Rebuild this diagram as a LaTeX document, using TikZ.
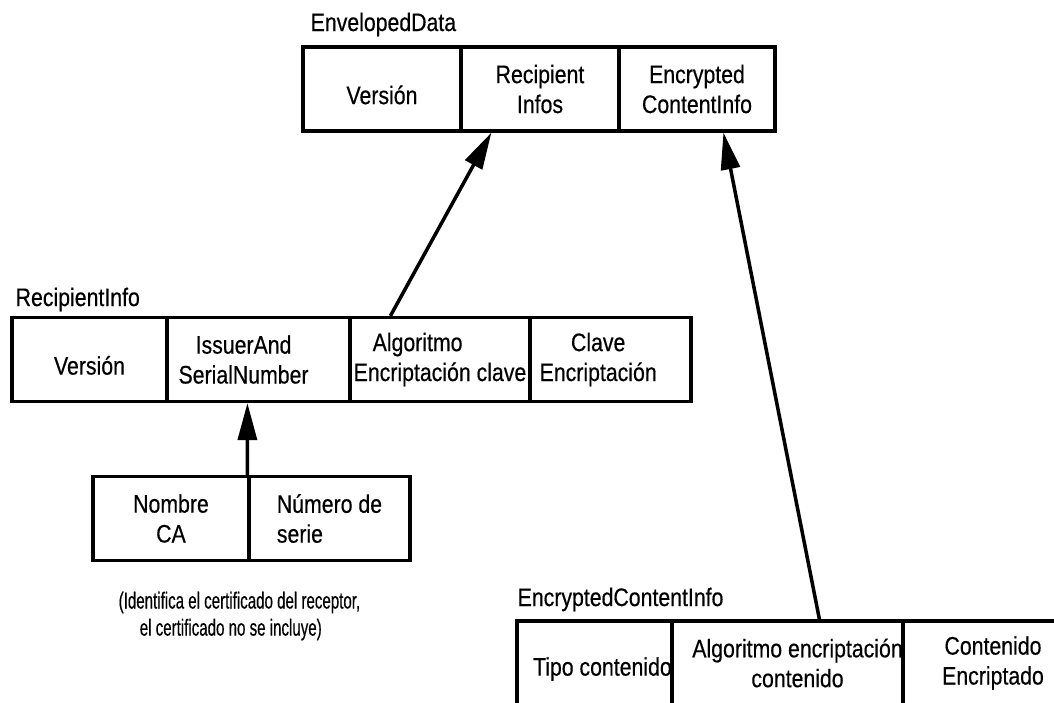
\documentclass[tikz,border=0pt]{standalone}
\usepackage{fontspec}
\setmainfont{Liberation Sans}[FakeStretch=0.84,FakeBold=0.4]
\newfontfamily\notefont{Liberation Sans}[FakeStretch=0.65,FakeBold=0.4]
\usetikzlibrary{arrows.meta,calc}
\begin{document}
\begin{tikzpicture}[x=0.01cm,y=-0.01cm,
  txt/.style={font=\fontsize{7.2pt}{8.5pt}\selectfont, inner sep=0pt},
  cell/.style={txt, draw, line width=0.9pt, align=center, minimum height=0.84cm,
    execute at begin node={\rule{0pt}{8.65pt}}},
  title/.style={txt, anchor=base west},
  link/.style={line width=1pt, -{Triangle[length=10.5pt,width=5.4pt]}}
]
\useasboundingbox (0,0) rectangle (1054,702);
\fill[white] (0,0) rectangle (1054,702);
\clip (0,0) rectangle (1054,702);

% EnvelopedData
\node[title] (edT) at (310,31) {EnvelopedData};
\node[cell, minimum width=1.58cm] (ed1) at (382,89) {Versión};
\node[cell, minimum width=1.58cm] (ed2) at (540,89) {Recipient\\Infos};
\node[cell, minimum width=1.56cm] (ed3) at (697,89) {Encrypted\\ContentInfo};

% RecipientInfo
\node[title] (riT) at (15,306) {RecipientInfo};
\node[cell, minimum width=1.55cm] (ri1) at (89.5,359.5) {Versión};
\node[cell, minimum width=1.83cm] (ri2) at (258.5,359.5) {IssuerAnd\hspace*{8.5pt}\\SerialNumber\hspace*{8.5pt}};
\node[cell, minimum width=1.80cm, align=left] (ri3) at (440,359.5) {\hspace*{5.4pt}Algoritmo\\Encriptación clave};
\node[cell, minimum width=1.61cm] (ri4) at (610.5,359.5) {Clave\hspace*{7pt}\\Encriptación\hspace*{7pt}};

% IssuerAndSerialNumber
\node[cell, minimum width=1.56cm] (is1) at (171,518.5) {Nombre\\CA};
\node[cell, minimum width=1.61cm, align=left] (is2) at (329.5,518.5) {Número de\\serie};
\node[txt, font=\notefont\fontsize{6.6pt}{7.7pt}\selectfont, align=left, anchor=north west] (note) at (118,591)
  {(Identifica el certificado del receptor,\\\hspace*{6pt}el certificado no se incluye)};

% EncryptedContentInfo
\node[title] (ecT) at (517,606) {EncryptedContentInfo};
\node[cell, minimum width=1.55cm] (ec1) at (594.5,663) {\hspace*{4.5pt}Tipo contenido};
\node[cell, minimum width=2.31cm] (ec2) at (787.5,663) {\hspace*{5.7pt}Algoritmo encriptación\\\hspace*{5.7pt}contenido};
\node[cell, minimum width=1.80cm] (ec3) at (993,663) {Contenido\\Encriptado};

% Links
\draw[link] ([xshift=0.42cm]ri3.north west) -- ([xshift=0.32cm]ed2.south west);
\draw[link] ([xshift=1.49cm]ec2.north west) -- ([xshift=1.06cm]ed3.south west);
\draw[link] (is2.north west) -- ([xshift=0.82cm]ri2.south west);
\end{tikzpicture}
\end{document}
